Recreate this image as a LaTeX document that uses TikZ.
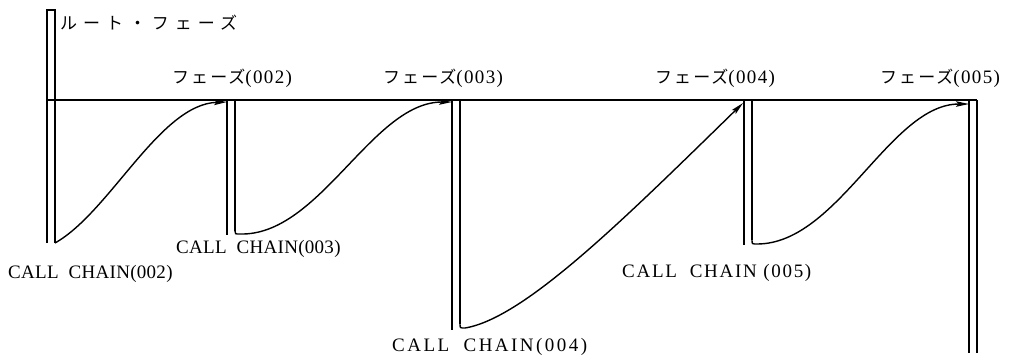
\documentclass[tikz,border=0pt]{standalone}
\usepackage{fontspec}
\setmainfont{Liberation Serif}
\newfontfamily\jp{Noto Sans CJK JP}
\usetikzlibrary{arrows.meta}
\tikzset{
  barline/.style={line width=1.6pt, black},
  axisline/.style={line width=1.3pt, black},
  callcurve/.style={line width=1.4pt, black, -{Stealth[length=13pt,width=5.5pt,inset=2.5pt]}},
  phaselabel/.style={inner sep=0pt, font=\fontsize{17}{19}\selectfont},
  calllabel/.style={inner sep=0pt, font=\fontsize{19}{21}\selectfont},
}
\newcommand{\phs}[1]{{\jp\addfontfeatures{LetterSpace=12}フェーズ}{\addfontfeatures{LetterSpace=7}\fontsize{19}{21}\selectfont(#1)}}
\begin{document}
\begin{tikzpicture}[x=1pt,y=-1pt]
\useasboundingbox (0,0) rectangle (1016,360);
% bar coordinates
\coordinate (r0t) at (47,10);  \coordinate (r1t) at (55,10);
\coordinate (r0b) at (47,243); \coordinate (r1b) at (55,243);
\coordinate (a0t) at (227,100); \coordinate (a1t) at (235,100);
\coordinate (a0b) at (227,235); \coordinate (a1b) at (235,231);
\coordinate (b0t) at (452,100); \coordinate (b1t) at (460,100);
\coordinate (b0b) at (452,330); \coordinate (b1b) at (460,324);
\coordinate (c0t) at (744,100); \coordinate (c1t) at (752,100);
\coordinate (c0b) at (744,245); \coordinate (c1b) at (752,240);
\coordinate (d0t) at (969,100); \coordinate (d1t) at (977,100);
\coordinate (d0b) at (969,353); \coordinate (d1b) at (977,353);
% arrow targets
\coordinate (ta) at (227,102);
\coordinate (tb) at (452,102);
\coordinate (tc) at (743,103);
\coordinate (td) at (969,104);

% root bar
\draw[barline] (r0b) -- (r0t) -- (r1t) -- (r1b);
% horizontal axis
\draw[axisline] (47,100) -- (d1t);
% other bars
\draw[barline] (a0t) -- (a0b);
\draw[barline] (b0t) -- (b0b);
\draw[barline] (c0t) -- (c0b);
\draw[barline] (d0t) -- (d0b);
\draw[barline] (d1t) -- (d1b);
% curves
\draw[callcurve] (r1b) .. controls (110,212) and (160,104) .. (ta);
\draw[barline] (a1t) -- (a1b);
\draw[callcurve] (a1b) .. controls (235,234) .. (240,234) .. controls (320,236) and (372,102) .. (tb);
\draw[barline] (b1t) -- (b1b);
\draw[callcurve] (b1b) .. controls (460,328) .. (465,328) .. controls (525,318) and (625,218) .. (tc);
\draw[barline] (c1t) -- (c1b);
\draw[callcurve] (c1b) .. controls (752,244) .. (757,244) .. controls (838,244) and (890,104) .. (td);

% labels
\node[phaselabel, anchor=west] (root) at (60,23) {\jp\addfontfeatures{LetterSpace=35}ルート・フェーズ};
\node[phaselabel, anchor=west] (p2) at (172,78) {\phs{002}};
\node[phaselabel, anchor=west] (p3) at (383,78) {\phs{003}};
\node[phaselabel, anchor=west] (p4) at (655,78) {\phs{004}};
\node[phaselabel, anchor=west] (p5) at (880,78) {\phs{005}};

\node[calllabel, anchor=west] (cc2) at (8,274) {\addfontfeatures{LetterSpace=1.5}CALL\ \ CHAIN(002)};
\node[calllabel, anchor=west] (cc3) at (176,249) {\addfontfeatures{LetterSpace=1.5}CALL\ \ CHAIN(003)};
\node[calllabel, anchor=west] (cc4) at (392,347) {\addfontfeatures{LetterSpace=13}CALL\ \ CHAIN(004)};
\node[calllabel, anchor=west] (cc5) at (622,273) {\addfontfeatures{LetterSpace=9}CALL\ \ CHAIN\ (005)};
\end{tikzpicture}
\end{document}
